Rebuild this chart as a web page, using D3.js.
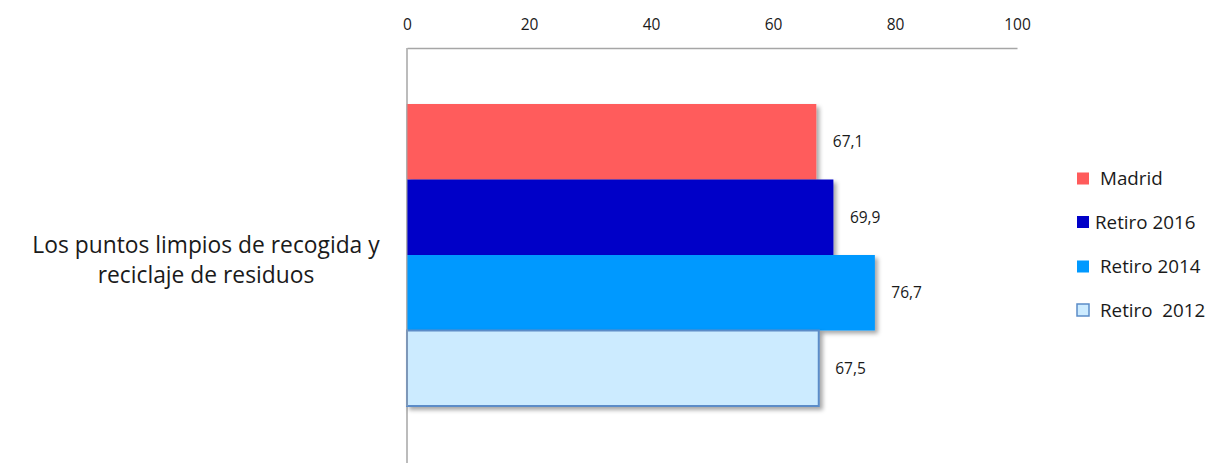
<!DOCTYPE html>
<html>
<head>
<meta charset="utf-8">
<script src="https://cdn.jsdelivr.net/npm/d3@7"></script>
<style>
body{margin:0;background:#fff;}
svg{display:block;}
text{font-family:"Open Sans","DejaVu Sans",sans-serif;fill:#1a1a1a;}
</style>
</head>
<body>
<svg id="chart" width="1230" height="470"></svg>
<script>
const categories = ["Los puntos limpios de recogida y reciclaje de residuos"];
const categoryLines = ["Los puntos limpios de recogida y", "reciclaje de residuos"];
const seriesNames = ["Madrid", "Retiro 2016", "Retiro 2014", "Retiro  2012"];
const seriesValues = [67.1, 69.9, 76.7, 67.5];
const valueLabels = ["67,1", "69,9", "76,7", "67,5"];
const tickValues = [0, 20, 40, 60, 80, 100];
const fills = ["#FF5B5B", "#0000C8", "#0099FF", "#CCEBFF"];
const strokes = [null, null, null, "#5B8CC8"];

const svg = d3.select("#chart");
const defs = svg.append("defs");
const f = defs.append("filter").attr("id","shadow").attr("x","-10%").attr("y","-10%").attr("width","130%").attr("height","140%");
f.append("feDropShadow").attr("dx",3).attr("dy",3).attr("stdDeviation",2).attr("flood-color","#000").attr("flood-opacity",0.35);

const x = d3.scaleLinear().domain([0,100]).range([407,1017]);
const y = d3.scaleBand().domain(seriesNames).range([104,406]).padding(0);

// Axis
const axis = d3.axisTop(x).tickValues(tickValues).tickSize(0).tickPadding(18.5).tickFormat(d3.format("d"));
const ag = svg.append("g").attr("transform","translate(0,48)").call(axis)
  .attr("font-size", null).attr("font-family", null);
ag.select(".domain").attr("stroke","#A6A6A6").attr("stroke-width",1.5);
ag.selectAll("text").attr("font-size","15.5px").style("font-size","15.5px").attr("fill","#1a1a1a");

// vertical axis line
svg.append("line").attr("x1",x(0)).attr("x2",x(0)).attr("y1",48).attr("y2",463)
  .attr("stroke","#A6A6A6").attr("stroke-width",1.5);

// bars
const data = seriesNames.map((s,i)=>({s, v:seriesValues[i], lab:valueLabels[i], fill:fills[i], stroke:strokes[i]}));
svg.append("g").selectAll("rect").data(data).join("rect")
  .attr("x", x(0))
  .attr("y", d=>y(d.s))
  .attr("width", d=>x(d.v)-x(0))
  .attr("height", y.bandwidth())
  .attr("fill", d=>d.fill)
  .attr("stroke", d=>d.stroke || "none")
  .attr("stroke-width", 2)
  .attr("filter","url(#shadow)");

svg.append("line").attr("x1",x(0)).attr("x2",x(0)).attr("y1",104).attr("y2",406)
  .attr("stroke","#A6A6A6").attr("stroke-width",1.5).attr("opacity",0.6);

svg.append("g").selectAll("text").data(data).join("text")
  .attr("x", d=>x(d.v)+16.5)
  .attr("y", d=>y(d.s)+y.bandwidth()/2)
  .attr("dy","0.36em")
  .style("font-size","15.5px")
  .text(d=>d.lab);

// category label
const cat = svg.append("text").attr("text-anchor","middle").style("font-size","22.8px");
categoryLines.forEach((t,i)=>{
  cat.append("tspan").attr("x",206).attr("y",253 + i*30).text(t);
});

// legend
const legBase = [185, 228.5, 273, 316.5];
const legTextX = [1100, 1095, 1100, 1100];
const lg = svg.append("g");
data.forEach((d,i)=>{
  lg.append("rect").attr("x",1077).attr("y",legBase[i]-12.5).attr("width",12).attr("height",12)
    .attr("fill",d.fill).attr("stroke",d.stroke||"none").attr("stroke-width",1.5);
  lg.append("text").attr("x",legTextX[i]).attr("y",legBase[i])
    .style("font-size","18.8px").style("white-space","pre").attr("xml:space","preserve").text(d.s);
});
</script>
</body>
</html>
